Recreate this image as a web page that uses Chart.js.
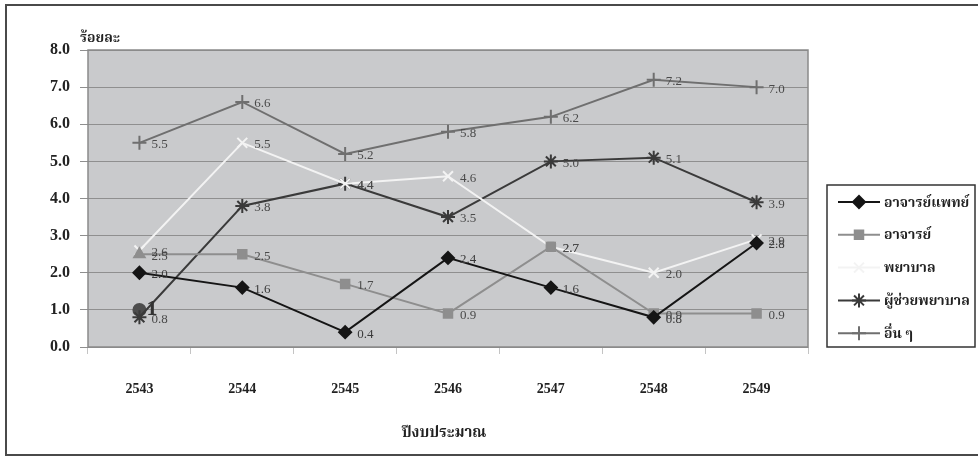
<!DOCTYPE html>
<html>
<head>
<meta charset="utf-8">
<script src="https://cdn.jsdelivr.net/npm/chart.js@4/dist/chart.umd.min.js"></script>
<style>
  html, body { margin: 0; padding: 0; background: #fff; }
  canvas { display: block; }
</style>
</head>
<body>
<canvas id="chart" width="978" height="458"></canvas>
<script>
// Fiscal years (Thai Buddhist calendar)
const years = ['2543', '2544', '2545', '2546', '2547', '2548', '2549'];

// Percentages per staff group
const medicalTeachers = [2.0, 1.6, 0.4, 2.4, 1.6, 0.8, 2.8];   // อาจารย์แพทย์
const teachers        = [2.5, 2.5, 1.7, 0.9, 2.7, 0.9, 0.9];   // อาจารย์
const nurses          = [2.6, 5.5, 4.4, 4.6, 2.7, 2.0, 2.9];   // พยาบาล
const nurseAides      = [0.8, 3.8, 4.4, 3.5, 5.0, 5.1, 3.9];   // ผู้ช่วยพยาบาล
const others          = [5.5, 6.6, 5.2, 5.8, 6.2, 7.2, 7.0];   // อื่น ๆ
const loosePoint      = [1, null, null, null, null, null, null];

const seriesNames = ['อาจารย์แพทย์', 'อาจารย์', 'พยาบาล', 'ผู้ช่วยพยาบาล', 'อื่น ๆ'];
const yTickValues = [0, 1, 2, 3, 4, 5, 6, 7, 8];

const yTitle = 'ร้อยละ';
const xTitle = 'ปีงบประมาณ';

const SERIF = '"Liberation Serif", "Noto Serif Thai", "Noto Sans Thai", "DejaVu Serif", serif';

const PLOT_BG = '#c9cacc';

const datasets = [
  { label: seriesNames[0], data: medicalTeachers, borderColor: '#151515', backgroundColor: '#151515',
    pointStyle: 'rectRot', pointRadius: 6, labelColor: '#3a3a3a' },
  { label: seriesNames[1], data: teachers, borderColor: '#8e8e8e', backgroundColor: '#8e8e8e',
    pointStyle: ['triangle', 'rect', 'rect', 'rect', 'rect', 'rect', 'rect'], pointRadius: 6, labelColor: '#4a4a4a' },
  { label: seriesNames[2], data: nurses, borderColor: '#f3f3f3', backgroundColor: '#f3f3f3',
    pointStyle: 'crossRot', pointRadius: 7, labelColor: '#4a4a4a' },
  { label: seriesNames[3], data: nurseAides, borderColor: '#3a3a3a', backgroundColor: '#3a3a3a',
    pointStyle: 'star', pointRadius: 7, labelColor: '#4a4a4a' },
  { label: seriesNames[4], data: others, borderColor: '#6f6f6f', backgroundColor: '#6f6f6f',
    pointStyle: 'cross', pointRadius: 7, labelColor: '#4a4a4a' },
  { label: '', data: loosePoint, borderColor: '#4d4d4d', backgroundColor: '#4d4d4d',
    pointStyle: 'circle', pointRadius: 6, labelColor: '#333', bigLabel: true, inLegend: false }
].map(d => Object.assign({ borderWidth: 2, pointBorderWidth: 2, tension: 0, spanGaps: false }, d));

// Frame, plot background, data labels, titles and legend
const decorations = {
  id: 'decorations',
  beforeDraw(chart) {
    const { ctx, chartArea: a } = chart;
    ctx.save();
    ctx.fillStyle = '#fff';
    ctx.fillRect(0, 0, chart.width, chart.height);
    ctx.strokeStyle = '#4a4a4a';
    ctx.lineWidth = 2;
    // the frame runs past the right edge of the canvas
    ctx.strokeRect(6, 5, 990, 450);
    ctx.fillStyle = PLOT_BG;
    ctx.fillRect(a.left, a.top, a.right - a.left, a.bottom - a.top);
    ctx.restore();
  },
  beforeDatasetsDraw(chart) {
    const { ctx, chartArea: a } = chart;
    ctx.save();
    ctx.strokeStyle = '#8a8a8a';
    ctx.lineWidth = 1.5;
    ctx.strokeRect(a.left, a.top, a.right - a.left, a.bottom - a.top);
    ctx.restore();
  },
  afterDatasetsDraw(chart) {
    const { ctx } = chart;
    ctx.save();
    ctx.textBaseline = 'middle';
    ctx.textAlign = 'left';
    chart.data.datasets.forEach((ds, i) => {
      const meta = chart.getDatasetMeta(i);
      meta.data.forEach((pt, j) => {
        const v = ds.data[j];
        if (v === null || v === undefined) return;
        if (ds.bigLabel) {
          ctx.font = 'bold 22px ' + SERIF;
          ctx.fillStyle = ds.labelColor;
          ctx.fillText(String(v), pt.x + 7, pt.y - 1);
        } else {
          ctx.font = '13px ' + SERIF;
          ctx.fillStyle = ds.labelColor;
          ctx.fillText(v.toFixed(1), pt.x + 12, pt.y + 2);
        }
      });
    });
    ctx.restore();
  },
  afterDraw(chart) {
    const { ctx } = chart;
    ctx.save();
    // axis titles
    ctx.fillStyle = '#222';
    ctx.textBaseline = 'alphabetic';
    ctx.textAlign = 'left';
    ctx.font = 'bold 14px ' + SERIF;
    ctx.fillText(yTitle, 80, 42);
    ctx.textAlign = 'center';
    ctx.font = 'bold 15px ' + SERIF;
    ctx.fillText(xTitle, 444, 437);

    // legend
    const box = { x: 827, y: 185, w: 148, h: 162 };
    ctx.strokeStyle = '#333';
    ctx.lineWidth = 1.5;
    ctx.fillStyle = '#fff';
    ctx.fillRect(box.x, box.y, box.w, box.h);
    ctx.strokeRect(box.x, box.y, box.w, box.h);
    const items = chart.data.datasets.filter(d => d.inLegend !== false);
    items.forEach((ds, k) => {
      const y = 202 + k * 32.8;
      ctx.strokeStyle = ds.borderColor;
      ctx.lineWidth = 2;
      ctx.beginPath();
      ctx.moveTo(838, y);
      ctx.lineTo(880, y);
      ctx.stroke();
      const style = Array.isArray(ds.pointStyle) ? ds.pointStyle[ds.pointStyle.length - 1] : ds.pointStyle;
      ctx.fillStyle = ds.backgroundColor;
      ctx.strokeStyle = ds.borderColor;
      ctx.lineWidth = 2;
      Chart.helpers.drawPoint(ctx, { pointStyle: style, radius: ds.pointRadius, rotation: 0, borderWidth: 2 }, 859, y);
      ctx.fillStyle = '#222';
      ctx.textAlign = 'left';
      ctx.textBaseline = 'middle';
      ctx.font = 'bold 14px ' + SERIF;
      ctx.fillText(ds.label, 884, y + 1);
    });
    ctx.restore();
  }
};

new Chart(document.getElementById('chart'), {
  type: 'line',
  data: { labels: years, datasets },
  options: {
    responsive: false,
    animation: false,
    layout: { padding: { left: 0, top: 50, right: 170, bottom: 0 } },
    plugins: { legend: { display: false }, tooltip: { enabled: false } },
    scales: {
      x: {
        type: 'category',
        offset: true,
        afterFit(s) { s.height = 111; },
        grid: { display: true, offset: true, drawOnChartArea: false, drawTicks: true, tickLength: 7, color: '#c4c4c4' },
        border: { display: false },
        ticks: { padding: 27, color: '#222', font: { family: SERIF, size: 14, weight: 'bold' } }
      },
      y: {
        min: 0,
        max: 8,
        afterFit(s) { s.width = 88; },
        afterBuildTicks(s) { s.ticks = yTickValues.map(v => ({ value: v })); },
        grid: { color: '#8f8f8f', lineWidth: 1, drawTicks: true, tickLength: 8 },
        border: { display: false },
        ticks: {
          padding: 10, color: '#222',
          font: { family: SERIF, size: 16, weight: 'bold' },
          callback: v => Number(v).toFixed(1)
        }
      }
    }
  },
  plugins: [decorations]
});
</script>
</body>
</html>
